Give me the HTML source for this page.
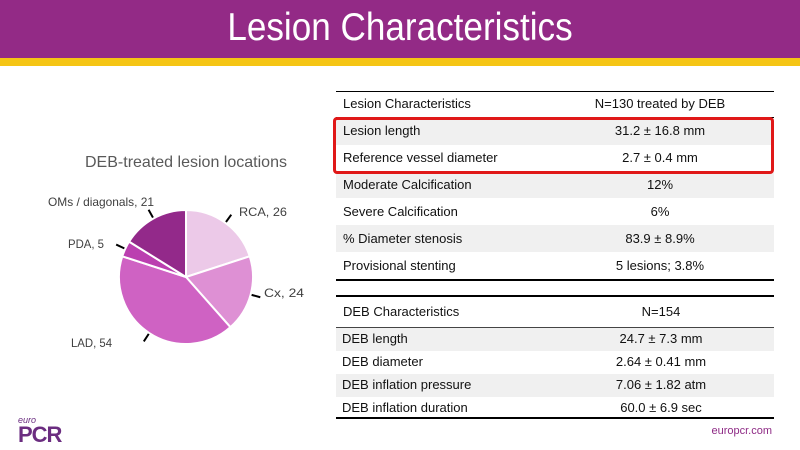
<!DOCTYPE html>
<html><head><meta charset="utf-8"><style>
body{margin:0;width:800px;height:450px;overflow:hidden;background:#fff;font-family:"Liberation Sans",sans-serif;position:relative}
.abs{position:absolute}
.t{position:absolute;font-size:13px;color:#111;white-space:nowrap}
.c{transform:translateX(-50%)}
</style></head><body>
<div class="abs" style="left:0;top:0;width:800px;height:58px;background:#932a86"></div>
<div class="abs" style="left:0;top:58px;width:800px;height:8px;background:#f5c515"></div>
<div class="abs" style="left:0;top:6px;width:800px;text-align:center;color:#fff;font-size:39px;transform:scaleX(0.9);transform-origin:400px 0">Lesion Characteristics</div>

<svg class="abs" style="left:0;top:0" width="330" height="450">
<text x="85" y="167" textLength="202" lengthAdjust="spacingAndGlyphs" font-size="16" fill="#595959">DEB-treated lesion locations</text>
<g id="pie"></g>
</svg>
<script>
const categories=["RCA","Cx","LAD","PDA","OMs / diagonals"];
const values=[26,24,54,5,21];
const colors=["#ecc9e8","#de90d4","#cf62c3","#bb3fb0","#93298a"];
const cx=186,cy=277,r=67;
const g=document.getElementById('pie');
const total=values.reduce((a,b)=>a+b,0);
let ang=0;
const NS="http://www.w3.org/2000/svg";
const labelPos=[[239,216,"start",48],[264,297,"start",40],[71,347,"start",41],[68,248,"start",36],[48,206,"start",106]];
values.forEach((v,i)=>{
  const a0=ang,a1=ang+v/total*2*Math.PI;ang=a1;
  const p=t=>[cx+r*Math.sin(t),cy-r*Math.cos(t)];
  const [x0,y0]=p(a0),[x1,y1]=p(a1);
  const path=document.createElementNS(NS,'path');
  path.setAttribute('d',`M${cx},${cy}L${x0},${y0}A${r},${r} 0 ${a1-a0>Math.PI?1:0} 1 ${x1},${y1}Z`);
  path.setAttribute('fill',colors[i]);path.setAttribute('stroke','#fff');path.setAttribute('stroke-width','2');
  
  
  g.appendChild(path);
  const mid=(a0+a1)/2;const [ex,ey]=[cx+(r+1)*Math.sin(mid),cy-(r+1)*Math.cos(mid)];
  const [ox,oy]=[cx+(r+10)*Math.sin(mid),cy-(r+10)*Math.cos(mid)];
  const ln=document.createElementNS(NS,'line');
  ln.setAttribute('x1',ex);ln.setAttribute('y1',ey);ln.setAttribute('x2',ox);ln.setAttribute('y2',oy);
  ln.setAttribute('stroke','#000');ln.setAttribute('stroke-width','2');
  
  
  g.appendChild(ln);
  const tx=document.createElementNS(NS,'text');
  tx.setAttribute('x',labelPos[i][0]);tx.setAttribute('y',labelPos[i][1]);
  tx.setAttribute('font-size','12');tx.setAttribute('fill','#404040');
  tx.setAttribute('textLength',labelPos[i][3]);tx.setAttribute('lengthAdjust','spacingAndGlyphs');
  tx.textContent=categories[i]+", "+v;
  
  
  g.appendChild(tx);
});
</script>

<!-- table 1 -->
<div>
<div class="abs" style="left:336px;top:91px;width:438px;height:1px;background:#000"></div>
<div class="abs" style="left:336px;top:117px;width:438px;height:1px;background:#000"></div>
<div class="abs" style="left:336px;top:118px;width:438px;height:27px;background:#f0f0f0"></div>
<div class="abs" style="left:336px;top:172px;width:438px;height:26px;background:#f0f0f0"></div>
<div class="abs" style="left:336px;top:225px;width:438px;height:27px;background:#f0f0f0"></div>
<div class="abs" style="left:336px;top:279px;width:438px;height:2px;background:#000"></div>
<div class="t" style="left:343px;top:96px">Lesion Characteristics</div><div class="t c" style="left:660px;top:96px">N=130 treated by DEB</div>
<div class="t" style="left:343px;top:123px">Lesion length</div><div class="t c" style="left:660px;top:123px">31.2 ± 16.8 mm</div>
<div class="t" style="left:343px;top:150px">Reference vessel diameter</div><div class="t c" style="left:660px;top:150px">2.7 ± 0.4 mm</div>
<div class="t" style="left:343px;top:177px">Moderate Calcification</div><div class="t c" style="left:660px;top:177px">12%</div>
<div class="t" style="left:343px;top:204px">Severe Calcification</div><div class="t c" style="left:660px;top:204px">6%</div>
<div class="t" style="left:343px;top:231px">% Diameter stenosis</div><div class="t c" style="left:660px;top:231px">83.9 ± 8.9%</div>
<div class="t" style="left:343px;top:258px">Provisional stenting</div><div class="t c" style="left:660px;top:258px">5 lesions; 3.8%</div>
</div>
<div class="abs" style="left:333px;top:117px;width:435px;height:51px;border:3px solid #e01818;border-radius:4px"></div>

<!-- table 2 -->
<div>
<div class="abs" style="left:336px;top:295px;width:438px;height:2px;background:#000"></div>
<div class="abs" style="left:336px;top:327px;width:438px;height:1px;background:#444"></div>
<div class="abs" style="left:336px;top:328px;width:438px;height:23px;background:#f0f0f0"></div>
<div class="abs" style="left:336px;top:374px;width:438px;height:23px;background:#f0f0f0"></div>
<div class="abs" style="left:336px;top:417px;width:438px;height:2px;background:#000"></div>
<div class="t" style="left:343px;top:304px">DEB Characteristics</div><div class="t c" style="left:661px;top:304px">N=154</div>
<div class="t" style="left:342px;top:331px">DEB length</div><div class="t c" style="left:661px;top:331px">24.7 ± 7.3 mm</div>
<div class="t" style="left:342px;top:354px">DEB diameter</div><div class="t c" style="left:661px;top:354px">2.64 ± 0.41 mm</div>
<div class="t" style="left:342px;top:377px">DEB inflation pressure</div><div class="t c" style="left:661px;top:377px">7.06 ± 1.82 atm</div>
<div class="t" style="left:342px;top:400px">DEB inflation duration</div><div class="t c" style="left:661px;top:400px">60.0 ± 6.9 sec</div>
</div>

<div class="abs" style="left:18px;top:415px;color:#6b2d80">
<div style="font-size:9px;font-style:italic">euro</div>
<div style="font-size:22px;font-weight:bold;line-height:20px;letter-spacing:-1px">PCR</div>
</div>
<div class="abs" style="right:28px;top:425px;font-size:11px;color:#8e2a85">europcr.com</div>
</body></html>
